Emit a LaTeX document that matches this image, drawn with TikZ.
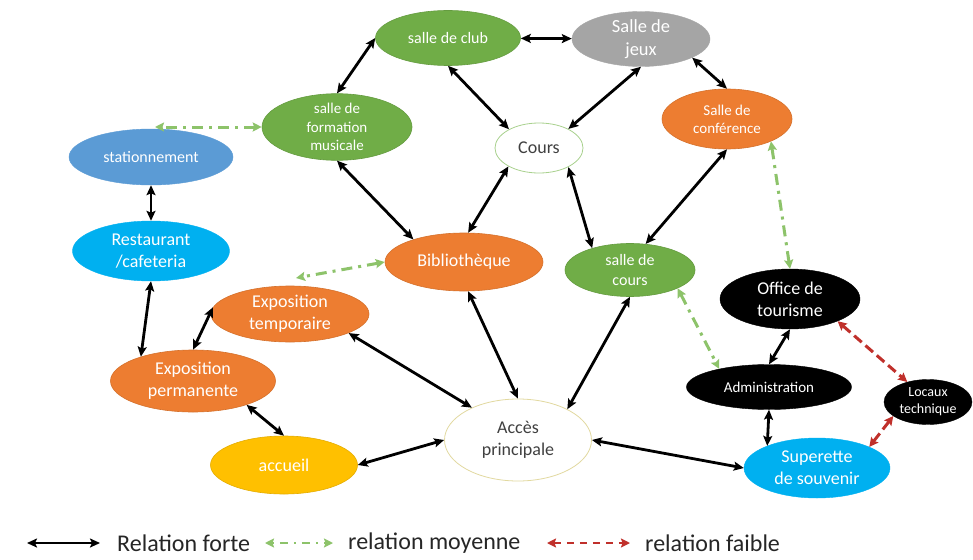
\documentclass[tikz,border=0pt]{standalone}
\usepackage{fontspec}
\setmainfont{Carlito}
\usetikzlibrary{arrows.meta,shapes.geometric}
\definecolor{cgreen}{HTML}{70AD47}
\definecolor{corange}{HTML}{ED7D31}
\definecolor{cgray}{HTML}{A5A5A5}
\definecolor{cblue}{HTML}{5B9BD5}
\definecolor{ccyan}{HTML}{00B0F0}
\definecolor{cyellow}{HTML}{FFC000}
\definecolor{relgreen}{HTML}{8DC36A}
\definecolor{relred}{HTML}{C0302B}
\definecolor{darktext}{HTML}{404040}
\definecolor{coursborder}{HTML}{A9D18E}
\definecolor{accesborder}{HTML}{E2D9A0}
\newcommand{\fs}[1]{\fontsize{#1}{1.22\dimexpr#1pt\relax}\selectfont}
\tikzset{
  nd/.style={ellipse, inner sep=0pt, align=center, text=white},
  gr/.style={nd, fill=cgreen, draw=cgreen!90!black, line width=0.6pt},
  orr/.style={nd, fill=corange, draw=corange!90!black, line width=0.6pt},
  bk/.style={nd, fill=black, draw=black},
  strong/.style={{Stealth[length=10pt,width=9pt,inset=2pt]}-{Stealth[length=10pt,width=9pt,inset=2pt]}, line width=2.8pt, black},
  medium/.style={{Stealth[length=9pt,width=9pt,inset=1.5pt]}-{Stealth[length=9pt,width=9pt,inset=1.5pt]}, line width=3pt, relgreen, dash pattern=on 11pt off 6pt on 3pt off 6pt},
  weak/.style={{Stealth[length=9pt,width=9pt,inset=1.5pt]}-{Stealth[length=9pt,width=9pt,inset=1.5pt]}, line width=3pt, relred, dash pattern=on 10pt off 5pt},
  legtext/.style={anchor=west, text=black!85, inner sep=0pt, font=\fs{24}}
}
\begin{document}
\begin{tikzpicture}[x=1pt,y=-1pt]
\path[use as bounding box, fill=white] (0,0) rectangle (973,559);
% nodes
\node[gr, minimum width=145pt, minimum height=55pt, font=\fs{16}] (club) at (448,38) {salle de club};
\node[nd, fill=cgray, draw=cgray, minimum width=138pt, minimum height=55pt, font=\fs{18.5}] (jeux) at (641,39) {Salle de\\jeux};
\node[gr, minimum width=150pt, minimum height=62pt, font=\fs{15}] (form) at (337,127) {salle de\\formation\\musicale};
\node[nd, fill=white, draw=coursborder, line width=0.8pt, text=darktext, minimum width=88pt, minimum height=50pt, font=\fs{18}] (cours) at (539,148) {Cours};
\node[orr, minimum width=130pt, minimum height=60pt, font=\fs{15}] (conf) at (727,119) {Salle de\\conférence};
\node[nd, fill=cblue, draw=cblue, minimum width=164pt, minimum height=56pt, font=\fs{16}] (stat) at (151,157) {stationnement};
\node[nd, fill=ccyan, draw=ccyan, minimum width=157pt, minimum height=60pt, font=\fs{18}] (resto) at (151,251) {Restaurant\\/cafeteria};
\node[orr, minimum width=158pt, minimum height=58pt, font=\fs{18}] (bib) at (464,262) {Bibliothèque};
\node[gr, minimum width=130pt, minimum height=53pt, font=\fs{16}] (sdc) at (630,270) {salle de\\cours};
\node[bk, minimum width=140pt, minimum height=60pt, font=\fs{18}] (office) at (790,299) {Office de\\tourisme};
\node[orr, minimum width=158pt, minimum height=56pt, font=\fs{18}] (temp) at (290,314) {Exposition\\temporaire};
\node[orr, minimum width=165pt, minimum height=62pt, font=\fs{18}] (perm) at (193,381) {Exposition\\permanente};
\node[bk, minimum width=165pt, minimum height=45pt, font=\fs{15}] (admin) at (769,387) {Administration};
\node[bk, minimum width=88pt, minimum height=45pt, font=\fs{14}] (loc) at (928,402) {Locaux\\technique};
\node[nd, fill=cyellow, draw=cyellow!90!black, line width=0.6pt, minimum width=147pt, minimum height=58pt, font=\fs{18}] (accueil) at (284,465) {accueil};
\node[nd, fill=white, draw=accesborder, line width=0.8pt, text=darktext, minimum width=147pt, minimum height=82pt, font=\fs{18}] (acces) at (518,440) {Accès\\principale};
\node[nd, fill=ccyan, draw=ccyan, minimum width=146pt, minimum height=60pt, font=\fs{18}] (sup) at (817,468) {Superette\\de souvenir};
% strong relations
\draw[strong] (club) -- (jeux);
\draw[strong] (club.west) -- (form.north);
\draw[strong] (club.south) -- (cours.148);
\draw[strong] (jeux.south) -- (cours.33);
\draw[strong] (jeux.-20) -- (conf.north);
\draw[strong] (form.south) -- (bib.156);
\draw[strong] (cours.211) -- (bib.82);
\draw[strong] (cours.-33) -- (sdc.150);
\draw[strong] (conf.south) -- (sdc.59);
\draw[strong] (stat.south) -- (resto.north);
\draw[strong] (resto.south) -- (perm.155);
\draw[strong] (temp.175) -- (perm.north);
\draw[strong] (temp.-18) -- (acces.145);
\draw[strong] (bib.-82) -- (acces.north);
\draw[strong] (sdc.south) -- (acces.32);
\draw[strong] (perm.-24) -- (accueil.north);
\draw[strong] (accueil.east) -- (acces.west);
\draw[strong] (acces.east) -- (sup.west);
\draw[strong] (office.south) -- (admin.north);
\draw[strong] (admin.south) -- (sup.156);
% medium relations
\coordinate (m1) at (155,127);
\coordinate (m2) at (296,278);
\draw[medium] (form.west) -- (m1);
\draw[medium] (bib.west) -- (m2);
\draw[medium] (conf.-27) -- (office.north);
\draw[medium] (sdc.-21) -- (admin.160);
% weak relations
\draw[weak] (office.-25) -- (loc.136);
\draw[weak] (loc.202) -- (sup.22);
% legend
\coordinate (l1a) at (27,543); \coordinate (l1b) at (100,543);
\coordinate (l2a) at (265,543); \coordinate (l2b) at (333,543);
\coordinate (l3a) at (547,543); \coordinate (l3b) at (630,543);
\draw[strong, line width=2.2pt] (l1a) -- (l1b);
\draw[medium, line width=2pt, dash pattern=on 2pt off 6pt on 8pt off 6pt] (l2a) -- (l2b);
\draw[weak, line width=2.2pt, dash pattern=on 7pt off 6pt] (l3a) -- (l3b);
\node[legtext] (t1) at (117,543) {Relation forte};
\node[legtext] (t2) at (348,543) {relation moyenne};
\node[legtext] (t3) at (645,543) {relation faible};
\end{tikzpicture}
\end{document}
